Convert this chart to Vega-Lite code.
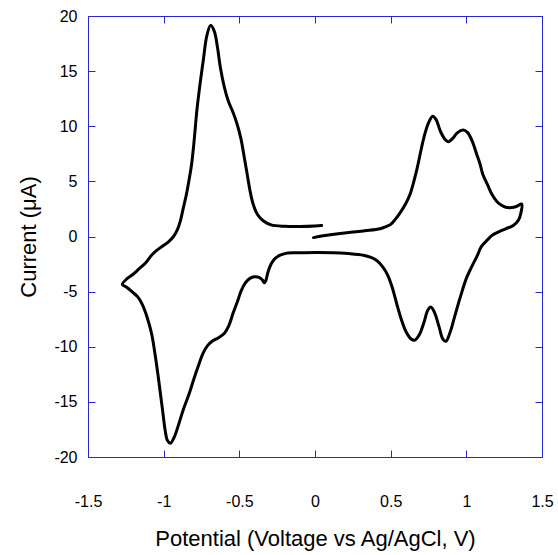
{
  "$schema": "https://vega.github.io/schema/vega-lite/v6.json",
  "width": 454,
  "height": 441,
  "autosize": {"type": "none"},
  "padding": {"left": 88, "top": 16, "right": 16, "bottom": 98},
  "background": "white",
  "config": {
    "view": {"stroke": null},
    "font": "Liberation Sans",
    "axis": {
      "grid": false,
      "domainColor": "#2626d4",
      "domainWidth": 1,
      "tickColor": "#2626d4",
      "tickWidth": 1,
      "tickSize": -7,
      "labelColor": "black",
      "labelFont": "Liberation Sans",
      "labelFontSize": 16,
      "labelFontWeight": "normal",
      "labelExpr": "datum.value + ''",
      "titleColor": "black",
      "titleFont": "Liberation Sans",
      "titleFontSize": 22,
      "titleFontWeight": "normal"
    }
  },
  "data": {
    "values": [
      {"i": 1, "potential": -0.01, "current": -0.1},
      {"i": 2, "potential": 0.1, "current": 0.15},
      {"i": 3, "potential": 0.21, "current": 0.35},
      {"i": 4, "potential": 0.33, "current": 0.52},
      {"i": 5, "potential": 0.43, "current": 0.7},
      {"i": 6, "potential": 0.47, "current": 0.9},
      {"i": 7, "potential": 0.5, "current": 1.1},
      {"i": 8, "potential": 0.53, "current": 1.55},
      {"i": 9, "potential": 0.56, "current": 2.1},
      {"i": 10, "potential": 0.6, "current": 3.0},
      {"i": 11, "potential": 0.63, "current": 3.9},
      {"i": 12, "potential": 0.67, "current": 5.9},
      {"i": 13, "potential": 0.7, "current": 7.8},
      {"i": 14, "potential": 0.72, "current": 9.0},
      {"i": 15, "potential": 0.75, "current": 10.3},
      {"i": 16, "potential": 0.778, "current": 10.9},
      {"i": 17, "potential": 0.8, "current": 10.6},
      {"i": 18, "potential": 0.83, "current": 9.5},
      {"i": 19, "potential": 0.86, "current": 8.8},
      {"i": 20, "potential": 0.88, "current": 8.6},
      {"i": 21, "potential": 0.91, "current": 8.9},
      {"i": 22, "potential": 0.94, "current": 9.4},
      {"i": 23, "potential": 0.98, "current": 9.65},
      {"i": 24, "potential": 1.01, "current": 9.4},
      {"i": 25, "potential": 1.04, "current": 8.6},
      {"i": 26, "potential": 1.07, "current": 7.4},
      {"i": 27, "potential": 1.09, "current": 6.6},
      {"i": 28, "potential": 1.11, "current": 5.6},
      {"i": 29, "potential": 1.14, "current": 4.7},
      {"i": 30, "potential": 1.17, "current": 3.8},
      {"i": 31, "potential": 1.2, "current": 3.2},
      {"i": 32, "potential": 1.23, "current": 2.85},
      {"i": 33, "potential": 1.26, "current": 2.65},
      {"i": 34, "potential": 1.3, "current": 2.62},
      {"i": 35, "potential": 1.33, "current": 2.72},
      {"i": 36, "potential": 1.366, "current": 2.95},
      {"i": 37, "potential": 1.36, "current": 2.1},
      {"i": 38, "potential": 1.345, "current": 1.5},
      {"i": 39, "potential": 1.31, "current": 1.0},
      {"i": 40, "potential": 1.26, "current": 0.7},
      {"i": 41, "potential": 1.21, "current": 0.4},
      {"i": 42, "potential": 1.17, "current": 0.1},
      {"i": 43, "potential": 1.14, "current": -0.3},
      {"i": 44, "potential": 1.1, "current": -0.9},
      {"i": 45, "potential": 1.07, "current": -1.8},
      {"i": 46, "potential": 1.03, "current": -2.9},
      {"i": 47, "potential": 1.0, "current": -3.8},
      {"i": 48, "potential": 0.96, "current": -5.5},
      {"i": 49, "potential": 0.92, "current": -7.4},
      {"i": 50, "potential": 0.89, "current": -8.8},
      {"i": 51, "potential": 0.865, "current": -9.5},
      {"i": 52, "potential": 0.845, "current": -9.3},
      {"i": 53, "potential": 0.82, "current": -8.2},
      {"i": 54, "potential": 0.79, "current": -6.9},
      {"i": 55, "potential": 0.765, "current": -6.4},
      {"i": 56, "potential": 0.745, "current": -6.7},
      {"i": 57, "potential": 0.72, "current": -7.8},
      {"i": 58, "potential": 0.69, "current": -8.9},
      {"i": 59, "potential": 0.66, "current": -9.4},
      {"i": 60, "potential": 0.635, "current": -9.3},
      {"i": 61, "potential": 0.6, "current": -8.6},
      {"i": 62, "potential": 0.57, "current": -7.5},
      {"i": 63, "potential": 0.54, "current": -6.1},
      {"i": 64, "potential": 0.51, "current": -4.6},
      {"i": 65, "potential": 0.48, "current": -3.5},
      {"i": 66, "potential": 0.45, "current": -2.8},
      {"i": 67, "potential": 0.41, "current": -2.2},
      {"i": 68, "potential": 0.37, "current": -1.9},
      {"i": 69, "potential": 0.32, "current": -1.7},
      {"i": 70, "potential": 0.22, "current": -1.55},
      {"i": 71, "potential": 0.12, "current": -1.47},
      {"i": 72, "potential": 0.0, "current": -1.45},
      {"i": 73, "potential": -0.1, "current": -1.48},
      {"i": 74, "potential": -0.18, "current": -1.5},
      {"i": 75, "potential": -0.23, "current": -1.7},
      {"i": 76, "potential": -0.265, "current": -2.0},
      {"i": 77, "potential": -0.29, "current": -2.5},
      {"i": 78, "potential": -0.31, "current": -3.2},
      {"i": 79, "potential": -0.325, "current": -4.0},
      {"i": 80, "potential": -0.335, "current": -4.2},
      {"i": 81, "potential": -0.35, "current": -3.9},
      {"i": 82, "potential": -0.37, "current": -3.7},
      {"i": 83, "potential": -0.4, "current": -3.65},
      {"i": 84, "potential": -0.43, "current": -3.8},
      {"i": 85, "potential": -0.46, "current": -4.2},
      {"i": 86, "potential": -0.49, "current": -5.0},
      {"i": 87, "potential": -0.51, "current": -5.8},
      {"i": 88, "potential": -0.54, "current": -6.9},
      {"i": 89, "potential": -0.57, "current": -8.1},
      {"i": 90, "potential": -0.6, "current": -8.8},
      {"i": 91, "potential": -0.64, "current": -9.2},
      {"i": 92, "potential": -0.68, "current": -9.5},
      {"i": 93, "potential": -0.71, "current": -9.9},
      {"i": 94, "potential": -0.74, "current": -10.6},
      {"i": 95, "potential": -0.77, "current": -11.7},
      {"i": 96, "potential": -0.8, "current": -12.9},
      {"i": 97, "potential": -0.83, "current": -14.2},
      {"i": 98, "potential": -0.87, "current": -15.7},
      {"i": 99, "potential": -0.9, "current": -17.0},
      {"i": 100, "potential": -0.93, "current": -18.2},
      {"i": 101, "potential": -0.955, "current": -18.75},
      {"i": 102, "potential": -0.975, "current": -18.5},
      {"i": 103, "potential": -0.99, "current": -17.6},
      {"i": 104, "potential": -1.005, "current": -16.0},
      {"i": 105, "potential": -1.02, "current": -14.4},
      {"i": 106, "potential": -1.04, "current": -12.3},
      {"i": 107, "potential": -1.06, "current": -10.4},
      {"i": 108, "potential": -1.08, "current": -8.8},
      {"i": 109, "potential": -1.11, "current": -7.3},
      {"i": 110, "potential": -1.14, "current": -6.2},
      {"i": 111, "potential": -1.17, "current": -5.5},
      {"i": 112, "potential": -1.21, "current": -5.0},
      {"i": 113, "potential": -1.245, "current": -4.6},
      {"i": 114, "potential": -1.273, "current": -4.35},
      {"i": 115, "potential": -1.24, "current": -3.8},
      {"i": 116, "potential": -1.2, "current": -3.4},
      {"i": 117, "potential": -1.16, "current": -2.9},
      {"i": 118, "potential": -1.12, "current": -2.4},
      {"i": 119, "potential": -1.08, "current": -1.7},
      {"i": 120, "potential": -1.05, "current": -1.3},
      {"i": 121, "potential": -1.01, "current": -0.9},
      {"i": 122, "potential": -0.97, "current": -0.5},
      {"i": 123, "potential": -0.935, "current": 0.0},
      {"i": 124, "potential": -0.91, "current": 0.6},
      {"i": 125, "potential": -0.89, "current": 1.4},
      {"i": 126, "potential": -0.87, "current": 2.6},
      {"i": 127, "potential": -0.85, "current": 3.8},
      {"i": 128, "potential": -0.83, "current": 5.3},
      {"i": 129, "potential": -0.815, "current": 6.6},
      {"i": 130, "potential": -0.8, "current": 8.5},
      {"i": 131, "potential": -0.78, "current": 11.5},
      {"i": 132, "potential": -0.76, "current": 13.8},
      {"i": 133, "potential": -0.738, "current": 16.0},
      {"i": 134, "potential": -0.715, "current": 18.2},
      {"i": 135, "potential": -0.69, "current": 19.15},
      {"i": 136, "potential": -0.665, "current": 18.6},
      {"i": 137, "potential": -0.645, "current": 17.2},
      {"i": 138, "potential": -0.625, "current": 15.3},
      {"i": 139, "potential": -0.6, "current": 13.6},
      {"i": 140, "potential": -0.573, "current": 12.3},
      {"i": 141, "potential": -0.54, "current": 11.2},
      {"i": 142, "potential": -0.515, "current": 10.2},
      {"i": 143, "potential": -0.49, "current": 8.9},
      {"i": 144, "potential": -0.47, "current": 7.4},
      {"i": 145, "potential": -0.45, "current": 5.8},
      {"i": 146, "potential": -0.43, "current": 4.2},
      {"i": 147, "potential": -0.41, "current": 3.0},
      {"i": 148, "potential": -0.38, "current": 2.0},
      {"i": 149, "potential": -0.34, "current": 1.4},
      {"i": 150, "potential": -0.29, "current": 1.05},
      {"i": 151, "potential": -0.2, "current": 0.92},
      {"i": 152, "potential": -0.1, "current": 0.9},
      {"i": 153, "potential": 0.0, "current": 0.95},
      {"i": 154, "potential": 0.044, "current": 1.0}
    ]
  },
  "layer": [
    {
      "mark": {"type": "line", "color": "black", "strokeWidth": 3, "interpolate": "catmull-rom", "strokeJoin": "round", "strokeCap": "round"},
      "encoding": {
        "order": {"field": "i", "type": "quantitative"},
        "x": {
          "field": "potential",
          "type": "quantitative",
          "scale": {"domain": [-1.5, 1.5], "nice": false, "zero": false},
          "axis": {
            "orient": "bottom",
            "title": "Potential (Voltage vs Ag/AgCl, V)",
            "values": [-1.5, -1, -0.5, 0, 0.5, 1, 1.5],
            "labelPadding": 43,
            "titlePadding": 19,
            "labelFlush": false
          }
        },
        "y": {
          "field": "current",
          "type": "quantitative",
          "scale": {"domain": [-20, 20], "nice": false, "zero": false},
          "axis": {
            "orient": "left",
            "title": "Current (μA)",
            "values": [-20, -15, -10, -5, 0, 5, 10, 15, 20],
            "labelPadding": 18,
            "titlePadding": 13,
            "labelFlush": false
          }
        }
      }
    },
    {
      "mark": {"type": "line", "opacity": 0},
      "encoding": {
        "order": {"field": "i", "type": "quantitative"},
        "x": {
          "field": "potential",
          "type": "quantitative",
          "scale": {"domain": [-1.5, 1.5], "nice": false, "zero": false},
          "axis": {"orient": "top", "title": null, "labels": false, "values": [-1.5, -1, -0.5, 0, 0.5, 1, 1.5]}
        },
        "y": {
          "field": "current",
          "type": "quantitative",
          "scale": {"domain": [-20, 20], "nice": false, "zero": false},
          "axis": {"orient": "right", "title": null, "labels": false, "values": [-20, -15, -10, -5, 0, 5, 10, 15, 20]}
        }
      }
    }
  ],
  "resolve": {"axis": {"x": "independent", "y": "independent"}}
}
